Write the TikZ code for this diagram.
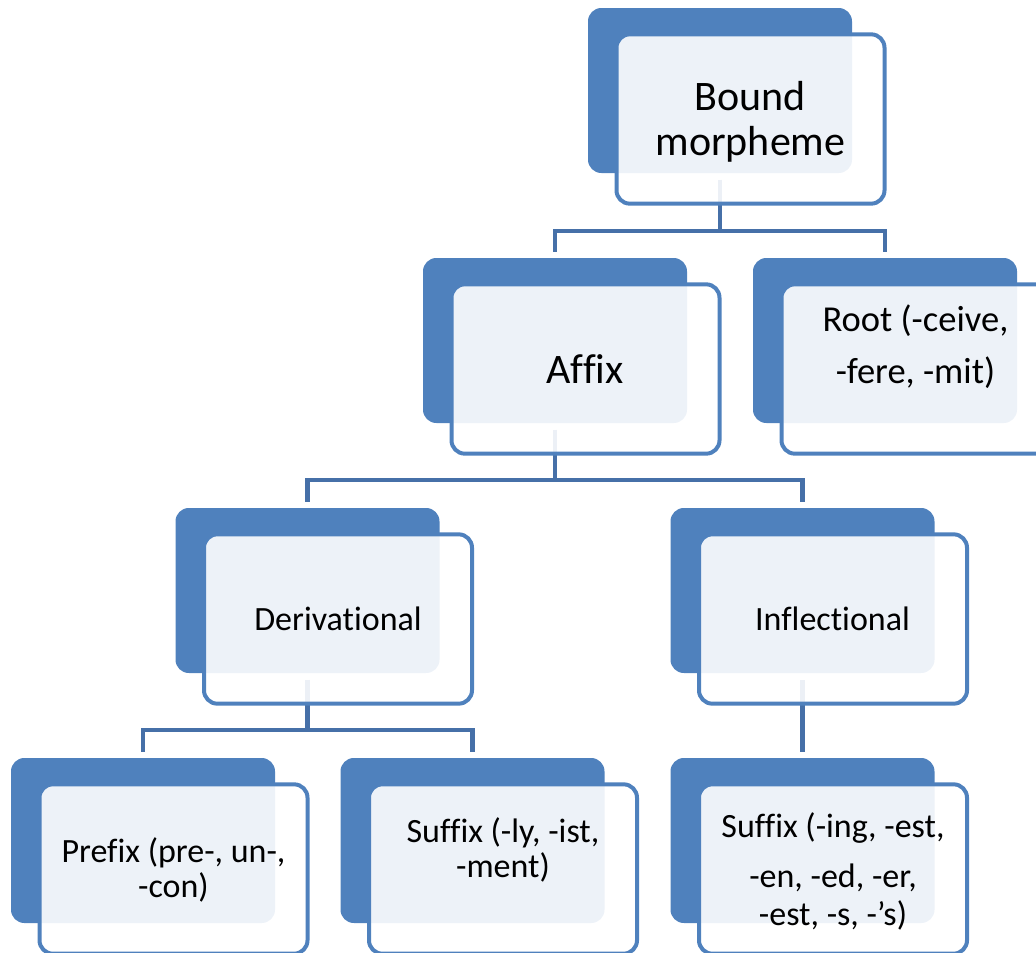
\documentclass[tikz,border=0pt]{standalone}
\usepackage{fontspec}
\setmainfont{Carlito}[Ligatures={NoCommon}]
\definecolor{accent}{HTML}{4F81BD}
\definecolor{connc}{HTML}{4670A8}
\begin{document}
\begin{tikzpicture}[x=0.75pt,y=-0.75pt,
  backbox/.style={draw=none, fill=accent, rounded corners=10pt, minimum width=198pt, minimum height=123.75pt, inner sep=0pt},
  frontbox/.style={draw=accent, line width=3pt, fill=white, fill opacity=0.9, rounded corners=10pt, minimum width=201pt, minimum height=127pt, inner sep=0pt},
  conn/.style={draw=connc, line width=3.6pt, shorten <=5pt, shorten >=4.5pt},
  lbl/.style={anchor=base, inner sep=0pt, text=black},
  big/.style={font=\fontsize{31.5}{34}\selectfont},
  mid/.style={font=\fontsize{27.4}{30}\selectfont},
  small/.style={font=\fontsize{25.5}{28}\selectfont}]
\useasboundingbox (0,0) rectangle (1036,953);
\clip (0,0) rectangle (1036,953);
% back boxes
\node[backbox] (boundB) at (720,90.5) {};
\node[backbox] (affixB) at (555,340.5) {};
\node[backbox] (rootB) at (885,340.5) {};
\node[backbox] (derivB) at (307.5,590.5) {};
\node[backbox] (inflB) at (802.5,590.5) {};
\node[backbox] (prefB) at (143,840.5) {};
\node[backbox] (sufdB) at (472.5,840.5) {};
\node[backbox] (sufiB) at (802.5,840.5) {};
% connector levels
\coordinate (h1) at (0,231);
\coordinate (h2) at (0,480);
\coordinate (h3) at (0,730);
\draw[conn] (boundB.south) -- (boundB.south |- h1) -| (affixB.north);
\draw[conn] (boundB.south) -- (boundB.south |- h1) -| (rootB.north);
\draw[conn] (affixB.south) -- (affixB.south |- h2) -| (derivB.north);
\draw[conn] (affixB.south) -- (affixB.south |- h2) -| (inflB.north);
\draw[conn] (derivB.south) -- (derivB.south |- h3) -| (prefB.north);
\draw[conn] (derivB.south) -- (derivB.south |- h3) -| (sufdB.north);
\draw[conn] (inflB.south) -- (sufiB.north);
% front boxes
\node[frontbox] (boundF) at (750.5,119) {};
\node[frontbox] (affixF) at (585.5,369) {};
\node[frontbox] (rootF) at (915.5,369) {};
\node[frontbox] (derivF) at (338,619) {};
\node[frontbox] (inflF) at (833,619) {};
\node[frontbox] (prefF) at (173.5,869) {};
\node[frontbox] (sufdF) at (503,869) {};
\node[frontbox] (sufiF) at (833,869) {};
% labels
\node[lbl,big] (boundT1) at (750.5,110) {Bound};
\node[lbl,big] (boundT2) at (750.5,155) {morpheme};
\node[lbl,big] (affixT) at (585,383) {Affix};
\node[lbl,mid] (rootT1) at (915.5,331) {Root (-ceive,};
\node[lbl,mid] (rootT2) at (915.5,383) {-fere, -mit)};
\node[lbl,small] (derivT) at (338,630) {Derivational};
\node[lbl,small] (inflT) at (832.5,630) {Inflectional};
\node[lbl,small] (prefT1) at (173.5,862) {Prefix (pre-, un-,};
\node[lbl,small] (prefT2) at (173.5,897) {-con)};
\node[lbl,small] (sufdT1) at (503,842) {Suffix (-ly, -ist,};
\node[lbl,small] (sufdT2) at (503,877) {-ment)};
\node[lbl,small] (sufiT1) at (833,837) {Suffix (-ing, -est,};
\node[lbl,small] (sufiT2) at (833,887) {-en, -ed, -er,};
\node[lbl,small] (sufiT3) at (833,925) {-est, -s, -’s)};
\end{tikzpicture}
\end{document}
